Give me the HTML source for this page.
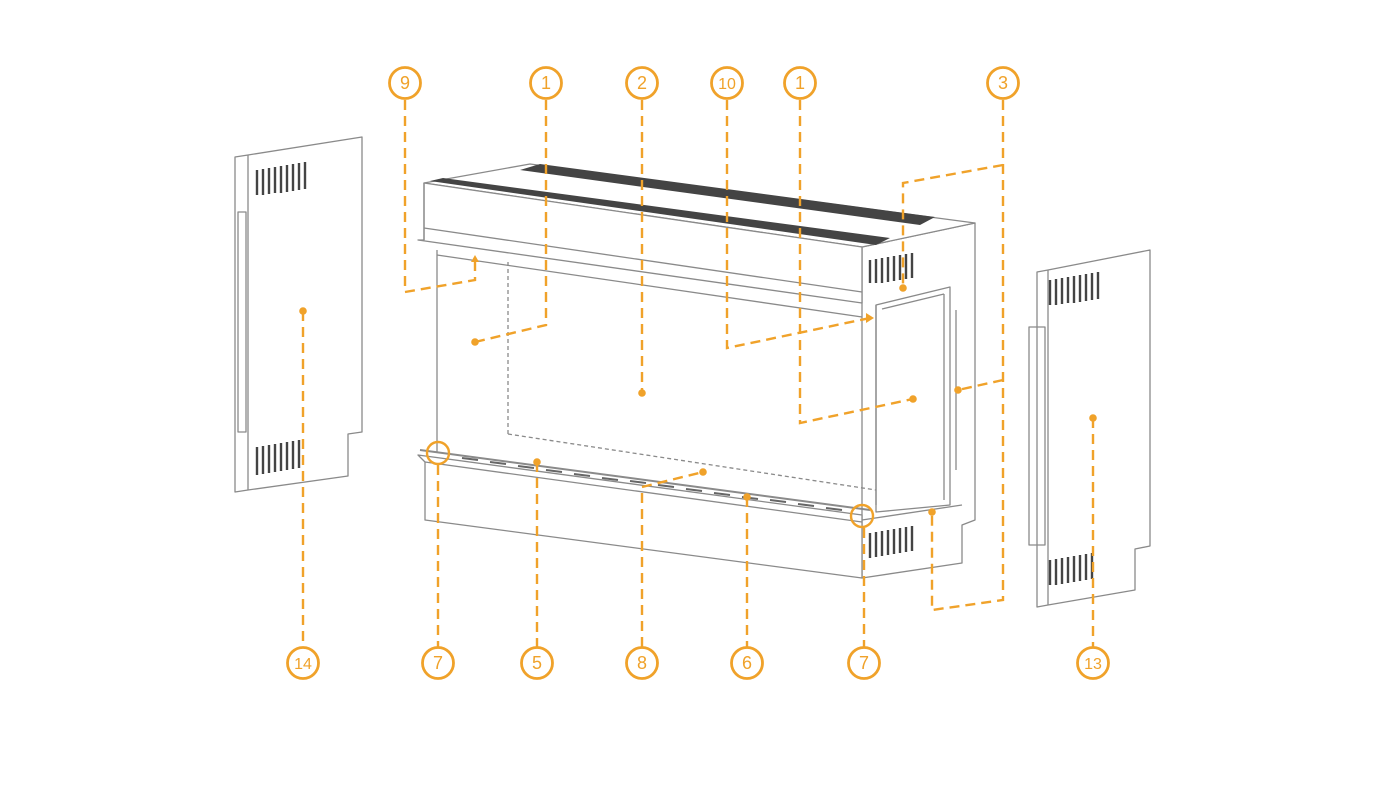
<!DOCTYPE html>
<html><head><meta charset="utf-8"><style>
html,body{margin:0;padding:0;background:#fff;}
svg{display:block;}
text{font-family:"Liberation Sans",sans-serif;font-size:18px;fill:#F0A22A;text-anchor:middle;}
</style></head><body>
<svg width="1400" height="800" viewBox="0 0 1400 800" xmlns="http://www.w3.org/2000/svg">
<g fill="none" stroke="#8a8a8a" stroke-width="1.3" stroke-linejoin="round">
<polygon points="235,157 248,155 362,137 362,432 348,434 348,476 248,490 235,492" fill="#fff"/>
<line x1="248" y1="155" x2="248" y2="490"/>
<rect x="238" y="212" width="8" height="220"/>
<polygon points="1037,272 1048,270 1150,250 1150,546 1135,549 1135,590 1048,605 1037,607" fill="#fff"/>
<line x1="1048" y1="270" x2="1048" y2="605"/>
<rect x="1029" y="327" width="16" height="218"/>
<polygon points="862,247 975,223 975,520 962,525 962,563 862,578" fill="#fff"/>
<polygon points="424,183 530,164 975,223 862,247" fill="#fff"/>
<polygon points="424,183 862,247 862,303 418,240 424,240" fill="#fff"/>
<line x1="424" y1="228" x2="862" y2="292"/>
<line x1="424" y1="183" x2="424" y2="240"/>
<line x1="437" y1="250" x2="437" y2="452"/>
<line x1="437" y1="255" x2="862" y2="317"/>
<line x1="876" y1="305" x2="876" y2="505"/>
<polygon points="876,305 950,287 950,505 876,512" fill="none"/>
<line x1="882" y1="309" x2="944" y2="294"/>
<line x1="944" y1="294" x2="944" y2="500"/>
<line x1="956" y1="310" x2="956" y2="470"/>
<line x1="508" y1="262" x2="508" y2="434" stroke-dasharray="4,3"/>
<line x1="508" y1="434" x2="876" y2="490" stroke-dasharray="4,3"/>
<polygon points="418,455 862,515 862,578 425,520 425,462" fill="#fff"/>
<line x1="425" y1="462" x2="862" y2="522"/>
<line x1="420" y1="450" x2="870" y2="510" stroke-width="2"/>
<line x1="862" y1="520" x2="962" y2="505"/>
</g>
<g fill="#444">
<polygon points="430,181 443,178 890,238 876,245"/>
<polygon points="520,170 540,164 935,217 920,225"/>
</g>
<g stroke="#666" stroke-width="2">
<line x1="462" y1="458" x2="478" y2="460"/><line x1="490" y1="462" x2="506" y2="464"/><line x1="518" y1="466" x2="534" y2="468"/><line x1="546" y1="470" x2="562" y2="472"/><line x1="574" y1="474" x2="590" y2="476"/><line x1="602" y1="478" x2="618" y2="480"/><line x1="630" y1="481" x2="646" y2="483"/><line x1="658" y1="485" x2="674" y2="487"/><line x1="686" y1="489" x2="702" y2="491"/><line x1="714" y1="493" x2="730" y2="495"/><line x1="742" y1="497" x2="758" y2="499"/><line x1="770" y1="500" x2="786" y2="502"/><line x1="798" y1="504" x2="814" y2="506"/><line x1="826" y1="508" x2="842" y2="510"/>
</g>
<g stroke="#444" stroke-width="2.4">
<path d="M257 170v25M263 169v26M269 168v26M275 167v26M281 166v27M287 165v27M293 164v27M299 163v27M305 162v27"/>
<path d="M257 447v28M263 446v28M269 445v28M275 444v28M281 443v28M287 442v28M293 441v28M299 440v28"/>
<path d="M1050 280v25M1056 279v26M1062 278v26M1068 277v26M1074 276v27M1080 275v27M1086 274v27M1092 273v27M1098 272v27"/>
<path d="M1050 560v25M1056 559v26M1062 558v26M1068 557v26M1074 556v26M1080 555v26M1086 554v26M1092 553v26"/>
<path d="M870 260v23M876 259v24M882 258v25M888 257v25M894 256v25M900 255v25M906 254v25M912 253v25"/>
<path d="M870 533v25M876 532v25M882 531v25M888 530v25M894 529v25M900 528v25M906 527v25M912 526v25"/>
</g>
<g fill="none" stroke="#F0A22A" stroke-width="2.4" stroke-dasharray="10,6">
<polyline points="405,100 405,292 475,280 475,262"/>
<polyline points="546,100 546,325 475,342"/>
<polyline points="642,100 642,393"/>
<polyline points="727,100 727,348 870,318"/>
<polyline points="800,100 800,423 913,399"/>
<polyline points="1003,100 1003,600 932,610 932,512"/>
<polyline points="1003,165 903,183 903,288"/>
<polyline points="1003,380 958,390"/>
<polyline points="303,311 303,647"/>
<polyline points="438,465 438,647"/>
<polyline points="537,462 537,647"/>
<polyline points="642,647 642,487 703,472"/>
<polyline points="747,497 747,647"/>
<polyline points="864,528 864,647"/>
<polyline points="1093,418 1093,647"/>
</g>
<g fill="#F0A22A">
<circle cx="475" cy="342" r="3.8"/><circle cx="642" cy="393" r="3.8"/><circle cx="913" cy="399" r="3.8"/>
<circle cx="903" cy="288" r="3.8"/><circle cx="958" cy="390" r="3.8"/><circle cx="932" cy="512" r="3.8"/>
<circle cx="303" cy="311" r="3.8"/><circle cx="537" cy="462" r="3.8"/><circle cx="703" cy="472" r="3.8"/>
<circle cx="747" cy="497" r="3.8"/><circle cx="1093" cy="418" r="3.8"/>
<polygon points="471,262 479,262 475,255"/><polygon points="866,313 874,318 866,323"/>
</g>
<g fill="none" stroke="#F0A22A" stroke-width="2.4">
<circle cx="438" cy="453" r="11"/><circle cx="862" cy="516" r="11"/>
</g>
<g fill="#fff" stroke="#F0A22A" stroke-width="2.8">
<circle cx="405" cy="83" r="15.5"/><circle cx="546" cy="83" r="15.5"/><circle cx="642" cy="83" r="15.5"/><circle cx="727" cy="83" r="15.5"/><circle cx="800" cy="83" r="15.5"/><circle cx="1003" cy="83" r="15.5"/>
<circle cx="303" cy="663" r="15.5"/><circle cx="438" cy="663" r="15.5"/><circle cx="537" cy="663" r="15.5"/><circle cx="642" cy="663" r="15.5"/><circle cx="747" cy="663" r="15.5"/><circle cx="864" cy="663" r="15.5"/><circle cx="1093" cy="663" r="15.5"/>
</g>
<text x="405" y="89">9</text><text x="546" y="89">1</text><text x="642" y="89">2</text><text x="727" y="89" style="font-size:16px">10</text><text x="800" y="89">1</text><text x="1003" y="89">3</text>
<text x="303" y="669" style="font-size:16px">14</text><text x="438" y="669">7</text><text x="537" y="669">5</text><text x="642" y="669">8</text><text x="747" y="669">6</text><text x="864" y="669">7</text><text x="1093" y="669" style="font-size:16px">13</text>
</svg>
</body></html>
